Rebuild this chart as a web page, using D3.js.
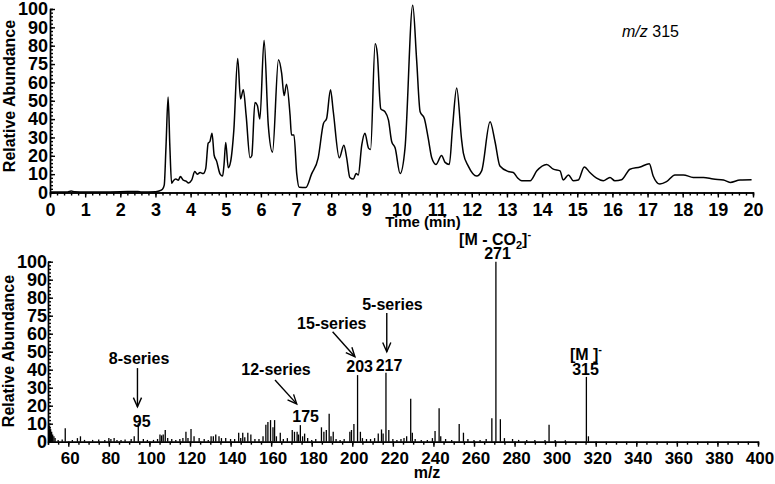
<!DOCTYPE html>
<html>
<head>
<meta charset="utf-8">
<script src="https://cdn.jsdelivr.net/npm/d3@7"></script>
<style>
body { margin: 0; background: #fff; }
svg { display: block; font-family: "Liberation Sans", Arial, sans-serif; }
.axis path, .axis line { stroke: #000; stroke-width: 1.4; }
.axis text { font-size: 18px; font-weight: bold; fill: #000; }
.axis.small text { font-size: 17px; }
</style>
</head>
<body>
<svg id="chart" width="775" height="484"></svg>
<script>
// chromatogram, m/z 315 (time in min, relative abundance)
var ticTime = [0, 0.5, 0.6, 0.7, 1.0, 1.5, 2.0, 2.5, 2.6, 3.0, 3.1, 3.2, 3.25, 3.3, 3.36, 3.41, 3.46, 3.51, 3.58, 3.65,
    3.71, 3.79, 3.87, 3.94, 4.03, 4.12, 4.19, 4.27, 4.36, 4.43, 4.50, 4.55, 4.61, 4.67, 4.74, 4.84, 4.91, 4.95, 5.0, 5.07,
    5.14, 5.23, 5.34, 5.42, 5.50, 5.58, 5.69, 5.74, 5.83, 5.90, 5.97, 6.09, 6.21, 6.33, 6.50, 6.59, 6.66, 6.73, 6.83, 6.87,
    6.94, 7.02, 7.09, 7.28, 7.44, 7.63, 7.78, 7.87, 7.98, 8.06, 8.23, 8.36, 8.44, 8.53, 8.63, 8.71, 8.77, 8.87, 8.96, 9.06,
    9.12, 9.25, 9.31, 9.41, 9.53, 9.63, 9.72, 9.82, 9.96, 10.10, 10.32, 10.43, 10.53, 10.65, 10.76, 10.86, 10.98, 11.14, 11.24, 11.36,
    11.45, 11.57, 11.71, 11.76, 11.9, 12.14, 12.28, 12.52, 12.66, 12.80, 13.04, 13.18, 13.3, 13.42, 13.66, 13.85, 14.13, 14.32, 14.51, 14.6,
    14.75, 14.89, 15.03, 15.2, 15.36, 15.55, 15.74, 15.93, 16.07, 16.26, 16.5, 16.79, 17.05, 17.16, 17.35, 17.54, 17.78, 18.02, 18.3, 18.59,
    18.87, 19.16, 19.35, 19.63, 19.96];
var ticValue = [0.3, 0.3, 0.8, 0.4, 0.3, 0.3, 0.4, 0.6, 0.3, 0.4, 0.8, 1.8, 4, 25, 52, 25, 5, 6.4, 7.3, 6.7,
    8.7, 6.7, 6.2, 5.2, 6.7, 11.4, 10, 10.9, 10.3, 13, 26.9, 27.8, 32.3, 20.3, 17.1, 10, 9, 15, 27.3, 13.5,
    17, 34, 73, 51, 56, 42, 18.9, 20, 49, 47.4, 40, 83, 36.7, 22, 72.4, 65, 52.8, 59, 42, 31.4,
    31.4, 10, 2.8, 2.7, 10, 18.9, 37.6, 40.3, 56, 44, 18.9, 25.7, 18.9, 8.2, 7.3, 10.3, 9.6, 26, 32.3, 24.2,
    23.4, 81, 76, 45.6, 44, 39.4, 27.8, 24.2, 10.3, 24.2, 102, 72.4, 44, 40.3, 29.6, 18.9, 15.3, 20.2, 16.4, 15.3,
    35, 57, 28.7, 21.5, 14.4, 9, 11.8, 38.5, 27.8, 14.4, 11.4, 10.9, 8, 6.4, 6.4, 11.8, 15.3, 12.7, 11.8, 6.8,
    9.6, 6.4, 6.8, 13.9, 10.9, 7.8, 6.4, 8.2, 6.4, 6.9, 12.7, 13.9, 15.7, 9, 4.6, 5.9, 9.6, 9.6, 8.2, 8.2,
    7.3, 6.8, 5.5, 6.8, 6.9];

// mass spectrum (m/z, relative abundance)
var msMz = [50.3, 50.8, 51.3, 51.8, 52.3, 52.9, 53.5, 55, 57, 58.5, 62, 64.5, 66, 68, 72, 75, 78, 80, 81, 82.6,
    84, 86, 88, 91, 92.5, 94.5, 97, 99, 102, 104, 105.2, 106, 106.8, 107.8, 109, 111, 113, 115, 116.5, 118,
    119, 120.5, 122, 124.5, 127, 129, 130.4, 131.5, 132.7, 134.3, 135.5, 137.6, 140, 142, 144, 145, 146, 147, 148.5, 150,
    152, 154, 156, 157.4, 158.4, 159.7, 160.9, 161.7, 162.6, 164.5, 166, 168, 170.4, 171.5, 172.8, 173.5, 174.4, 175.5, 176.5, 178,
    180, 182, 184.8, 186, 187.2, 188.6, 189.5, 190.6, 192, 194, 196, 198.8, 199.6, 200.8, 202.6, 204, 205, 207, 209, 211,
    212.8, 214.4, 215.2, 216.6, 218, 220, 222, 224, 225.5, 226.8, 228.8, 229.6, 231, 234, 237, 239.5, 240.8, 242.8, 243.6, 246,
    249, 252.7, 254.8, 257, 260, 263, 266, 268.8, 270.8, 273, 275, 279, 282, 286, 290, 295, 297, 300, 305, 315.4, 316.4];
var msInt = [10.5, 9, 7, 5.5, 4, 3, 2, 1, 1.2, 7.5, 1, 2, 3, 1, 1, 1.2, 1, 2, 1.5, 2,
    1, 1, 1.2, 1.5, 3, 10.3, 1.5, 1, 1, 1.5, 4, 3.5, 4, 6.5, 2, 1.5, 1, 1.5, 2, 5.5,
    2, 7, 3, 2, 1.5, 1, 3, 3, 4, 3, 2, 2, 1.5, 1.5, 5, 2, 5, 2.5, 5, 4,
    1.5, 1.5, 3, 9.4, 11, 12, 8, 12, 3, 5, 1.5, 2, 6.5, 5.5, 5.5, 4, 9.2, 3, 4.5, 2,
    1, 1.5, 8, 5.5, 6.5, 15.5, 3, 5.5, 1.5, 1, 1.5, 5.5, 6.5, 9.8, 37, 5.5, 2, 1.5, 1.5, 2,
    4.5, 6.8, 4.5, 38.3, 6.5, 1.5, 1, 1.5, 2, 3, 23.8, 5, 1.5, 1, 1, 2, 6, 18.6, 3, 1.5,
    1, 9.8, 5, 1.5, 1, 1, 1.5, 13, 100, 12.5, 2, 1.5, 1, 1, 1, 1, 9.4, 1, 0.8, 36, 3];

// tick labels (the original figure prints 75 at the 70 tick)
var abundTicks = [0, 10, 20, 30, 40, 50, 60, 70, 80, 90, 100];
var abundLabels = ["0", "10", "20", "30", "40", "50", "60", "75", "80", "90", "100"];
var timeTicks = d3.range(0, 21, 1);
var mzTicks = d3.range(60, 401, 20);

// annotations on the spectrum, positions in data units
var seriesText = ["8-series", "12-series", "15-series", "5-series"];
var seriesMz = [94.9, 162.4, 189.9, 219.8];
var seriesInt = [43.2, 36.8, 62.8, 73.2];
var arrowFrom = [[94.1, 40.9], [161.9, 34.3], [190.3, 61.1], [217, 71.5]];
var arrowTo = [[94.1, 19.4], [172.6, 21], [201.3, 47.2], [217, 50]];
var peakText = ["95", "175", "203", "217", "271", "315"];
var peakMz = [96.2, 177, 203.6, 218.1, 271.6, 315];
var peakInt = [8.2, 11.1, 38.9, 39.3, 101.5, 37.1];

var svg = d3.select("#chart");

function draw_chromatogram()
{
    var x = d3.scaleLinear().domain([0, 20]).range([50, 753]);
    var y = d3.scaleLinear().domain([0, 100]).range([192.5, 9]);

    // minor ticks first, then major
    svg.append("g")
        .attr("class", "axis")
        .attr("transform", "translate(0,192.5)")
        .call(d3.axisBottom(x).tickValues(d3.range(0, 20.01, 0.2)).tickSize(3).tickFormat(""));
    svg.append("g")
        .attr("class", "axis")
        .attr("transform", "translate(0,192.5)")
        .call(d3.axisBottom(x).tickValues(timeTicks).tickSize(5).tickPadding(6).tickSizeOuter(0));

    svg.append("g")
        .attr("class", "axis")
        .attr("transform", "translate(50,0)")
        .call(d3.axisLeft(y).tickValues(d3.range(0, 100.1, 2)).tickSize(-3).tickFormat(""));
    svg.append("g")
        .attr("class", "axis")
        .attr("transform", "translate(50,0)")
        .call(d3.axisLeft(y).tickValues(abundTicks).tickSize(-5).tickPadding(2).tickSizeOuter(0)
            .tickFormat((d, i) => abundLabels[i]));

    var pts = ticTime.map((t, i) => [t, ticValue[i]]);
    var line = d3.line()
        .x(d => x(d[0]))
        .y(d => y(d[1]))
        .curve(d3.curveMonotoneX);
    svg.append("path")
        .datum(pts)
        .attr("d", line)
        .attr("fill", "none")
        .attr("stroke", "#000")
        .attr("stroke-width", 1.5)
        .attr("stroke-linejoin", "round");

    svg.append("text")
        .attr("transform", "translate(15,96) rotate(-90)")
        .attr("text-anchor", "middle")
        .attr("font-size", 16)
        .attr("font-weight", "bold")
        .text("Relative Abundance");

    svg.append("text")
        .attr("x", 423).attr("y", 227)
        .attr("text-anchor", "middle")
        .attr("font-size", 15)
        .attr("font-weight", "bold")
        .text("Time (min)");

    var mz = svg.append("text")
        .attr("x", 622).attr("y", 37)
        .attr("font-size", 16);
    mz.append("tspan").attr("font-style", "italic").text("m/z");
    mz.append("tspan").text(" 315");
}

function draw_arrow(g, x1, y1, x2, y2)
{
    var a = Math.atan2(y2 - y1, x2 - x1);
    var h = 10, w = 0.42;
    g.append("line")
        .attr("x1", x1).attr("y1", y1).attr("x2", x2).attr("y2", y2);
    g.append("path")
        .attr("d", `M${x2 - h * Math.cos(a - w)},${y2 - h * Math.sin(a - w)}L${x2},${y2}L${x2 - h * Math.cos(a + w)},${y2 - h * Math.sin(a + w)}`)
        .attr("fill", "none");
}

function draw_spectrum()
{
    var x = d3.scaleLinear().domain([50, 400]).range([48, 758]);
    var y = d3.scaleLinear().domain([0, 100]).range([441.7, 261.7]);

    svg.append("g")
        .attr("class", "axis")
        .attr("transform", "translate(0,441.7)")
        .call(d3.axisBottom(x).tickValues(d3.range(50, 400.1, 5)).tickSize(3).tickFormat(""));
    svg.append("g")
        .attr("class", "axis small")
        .attr("transform", "translate(0,441.7)")
        .call(d3.axisBottom(x).tickValues(mzTicks).tickSize(5).tickPadding(5).tickSizeOuter(0))
        .selectAll("text").attr("dx", 1.5);

    svg.append("g")
        .attr("class", "axis")
        .attr("transform", "translate(48,0)")
        .call(d3.axisLeft(y).tickValues(d3.range(0, 100.1, 2)).tickSize(-3).tickFormat(""));
    svg.append("g")
        .attr("class", "axis")
        .attr("transform", "translate(48,0)")
        .call(d3.axisLeft(y).tickValues(abundTicks).tickSize(-5).tickPadding(1).tickSizeOuter(0)
            .tickFormat((d, i) => abundLabels[i]));

    svg.append("g")
        .selectAll("line")
        .data(msMz)
        .enter().append("line")
        .attr("x1", d => x(d)).attr("x2", d => x(d))
        .attr("y1", y(0))
        .attr("y2", (d, i) => y(msInt[i]))
        .attr("stroke", "#000")
        .attr("stroke-width", 1.3);

    var ann = svg.append("g")
        .attr("font-size", 16)
        .attr("font-weight", "bold")
        .attr("text-anchor", "middle");

    ann.selectAll("text.series")
        .data(seriesText)
        .enter().append("text")
        .attr("class", "series")
        .attr("x", (d, i) => x(seriesMz[i]))
        .attr("y", (d, i) => y(seriesInt[i]))
        .text(d => d);

    ann.selectAll("text.peak")
        .data(peakText)
        .enter().append("text")
        .attr("class", "peak")
        .attr("x", (d, i) => x(peakMz[i]))
        .attr("y", (d, i) => y(peakInt[i]))
        .text(d => d);

    var arrows = svg.append("g")
        .attr("stroke", "#000")
        .attr("stroke-width", 1.4);
    arrowFrom.forEach((p, i) => {
        draw_arrow(arrows, x(p[0]), y(p[1]), x(arrowTo[i][0]), y(arrowTo[i][1]));
    });

    // ion labels with sub/superscripts
    var co2 = ann.append("text")
        .attr("x", x(270.4)).attr("y", y(109.3));
    co2.append("tspan").text("[M - CO");
    co2.append("tspan").attr("font-size", 11).attr("dy", 4).text("2");
    co2.append("tspan").attr("dy", -4).text("]");
    co2.append("tspan").attr("font-size", 11).attr("dy", -7).text("-");

    var mion = ann.append("text")
        .attr("x", x(315.2)).attr("y", y(45.2));
    mion.append("tspan").text("[M ]");
    mion.append("tspan").attr("font-size", 11).attr("dy", -7).text("-");

    svg.append("text")
        .attr("transform", "translate(14,351) rotate(-90)")
        .attr("text-anchor", "middle")
        .attr("font-size", 16)
        .attr("font-weight", "bold")
        .text("Relative Abundance");

    svg.append("text")
        .attr("x", 427).attr("y", 478)
        .attr("text-anchor", "middle")
        .attr("font-size", 16)
        .attr("font-weight", "bold")
        .text("m/z");
}

draw_chromatogram();
draw_spectrum();
</script>
</body>
</html>
